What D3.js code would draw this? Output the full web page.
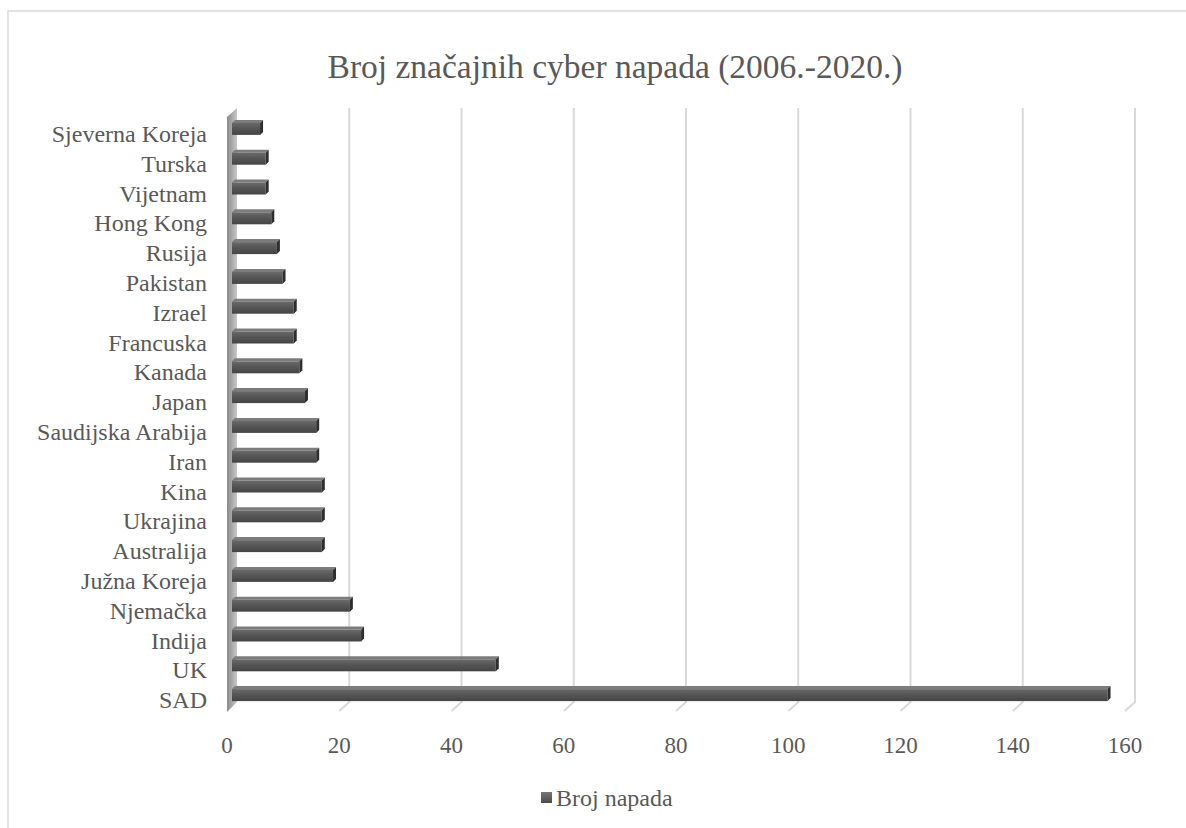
<!DOCTYPE html>
<html>
<head>
<meta charset="utf-8">
<script src="https://cdn.jsdelivr.net/npm/d3@7"></script>
<style>
  html, body { margin: 0; padding: 0; background: #fff; }
  svg { display: block; }
</style>
</head>
<body>
<svg id="chart" width="1186" height="828"></svg>
<script>
// ---- data (first category drawn at the bottom, as in the original) ----
const categories = ["SAD", "UK", "Indija", "Njemačka", "Južna Koreja", "Australija", "Ukrajina", "Kina ", "Iran",
  "Saudijska Arabija", "Japan", "Kanada", "Francuska", "Izrael", "Pakistan", "Rusija", "Hong Kong", "Vijetnam",
  "Turska", "Sjeverna Koreja"];
const values = [156, 47, 23, 21, 18, 16, 16, 16, 15, 15, 13, 12, 11, 11, 9, 8, 7, 6, 6, 5];
const xTicks = [0, 20, 40, 60, 80, 100, 120, 140, 160];
const seriesName = "Broj napada";
const titleText = "Broj značajnih cyber napada (2006.-2020.)";

const FONT = "'Liberation Serif', 'DejaVu Serif', serif";
const TXT = "#595959";

const svg = d3.select("#chart").attr("font-family", FONT);
const defs = svg.append("defs");

// gradients
const gBar = defs.append("linearGradient").attr("id", "barFront").attr("x1", 0).attr("y1", 0).attr("x2", 0).attr("y2", 1);
gBar.append("stop").attr("offset", "0%").attr("stop-color", "#6a6a6a");
gBar.append("stop").attr("offset", "45%").attr("stop-color", "#565656");
gBar.append("stop").attr("offset", "100%").attr("stop-color", "#444");
const gWall = defs.append("linearGradient").attr("id", "wall").attr("x1", 0).attr("y1", 0).attr("x2", 1).attr("y2", 0);
gWall.append("stop").attr("offset", "0%").attr("stop-color", "#8a8a8a");
gWall.append("stop").attr("offset", "100%").attr("stop-color", "#c8c8c8");
const gLeg = defs.append("linearGradient").attr("id", "leg").attr("x1", 0).attr("y1", 0).attr("x2", 0).attr("y2", 1);
gLeg.append("stop").attr("offset", "0%").attr("stop-color", "#777");
gLeg.append("stop").attr("offset", "100%").attr("stop-color", "#4a4a4a");

// frame (top and left border visible)
svg.append("path").attr("d", "M8,828 L8,11 L1186,11")
  .attr("fill", "none").attr("stroke", "#d9d9d9").attr("stroke-width", 1.5);

// scales
const xBack = d3.scaleLinear().domain([0, 160]).range([237, 1135]);
const depth = { dx: -10, dy: 9 };        // back -> front
const yTop = 108, yBottom = 702;
const y = d3.scaleBand().domain(categories.slice().reverse()).range([113, 709]);

// gridlines (back wall + floor slant)
const grid = svg.append("g");
xTicks.filter(t => t > 0).forEach(t => {
  const xb = xBack(t);
  grid.append("path")
    .attr("d", `M${xb},${yTop} L${xb},${yBottom} L${xb + depth.dx},${yBottom + depth.dy}`)
    .attr("fill", "none").attr("stroke", "#d9d9d9").attr("stroke-width", 2);
});

// left side wall
const x0 = xBack(0);
svg.append("path")
  .attr("d", `M${x0},${yTop} L${x0},${yBottom} L${x0 + depth.dx},${yBottom + depth.dy + 1} L${x0 + depth.dx},${yTop + depth.dy}Z`)
  .attr("fill", "url(#wall)");

// bars (mid-depth)
const xBar = v => xBack(v) + depth.dx / 2;
const bars = svg.append("g");
categories.forEach((c, i) => {
  const cy = y(c) + y.bandwidth() / 2;
  const xs = xBar(0), xe = xBar(values[i]);
  const t = cy - 5, b = cy + 7, d = 3;
  bars.append("path").attr("d", `M${xs},${t} L${xe},${t} L${xe + d},${t - d} L${xs + d},${t - d}Z`).attr("fill", "#7c7c7c");
  bars.append("rect").attr("x", xs).attr("y", t).attr("width", xe - xs).attr("height", b - t).attr("fill", "url(#barFront)");
  bars.append("path").attr("d", `M${xe},${t} L${xe + d},${t - d} L${xe + d},${b - d} L${xe},${b}Z`).attr("fill", "#2e2e2e");
});

// category labels
svg.append("g").selectAll("text").data(categories).join("text")
  .attr("x", 207)
  .attr("y", c => y(c) + y.bandwidth() / 2 + 6)
  .attr("text-anchor", "end").attr("dominant-baseline", "central")
  .attr("font-size", 24).attr("fill", TXT)
  .text(c => c);

// x tick labels (front edge)
svg.append("g").selectAll("text").data(xTicks).join("text")
  .attr("x", t => xBack(t) + depth.dx)
  .attr("y", 745)
  .attr("text-anchor", "middle").attr("dominant-baseline", "central")
  .attr("font-size", 23).attr("fill", TXT)
  .text(t => t);

// title
svg.append("text").attr("x", 615).attr("y", 66)
  .attr("text-anchor", "middle").attr("dominant-baseline", "central")
  .attr("font-size", 33.5).attr("fill", TXT).text(titleText);

// legend
svg.append("rect").attr("x", 541).attr("y", 792).attr("width", 11).attr("height", 11).attr("fill", "url(#leg)");
svg.append("text").attr("x", 556).attr("y", 798).attr("dominant-baseline", "central")
  .attr("font-size", 24).attr("fill", TXT).text(seriesName);
</script>
</body>
</html>
